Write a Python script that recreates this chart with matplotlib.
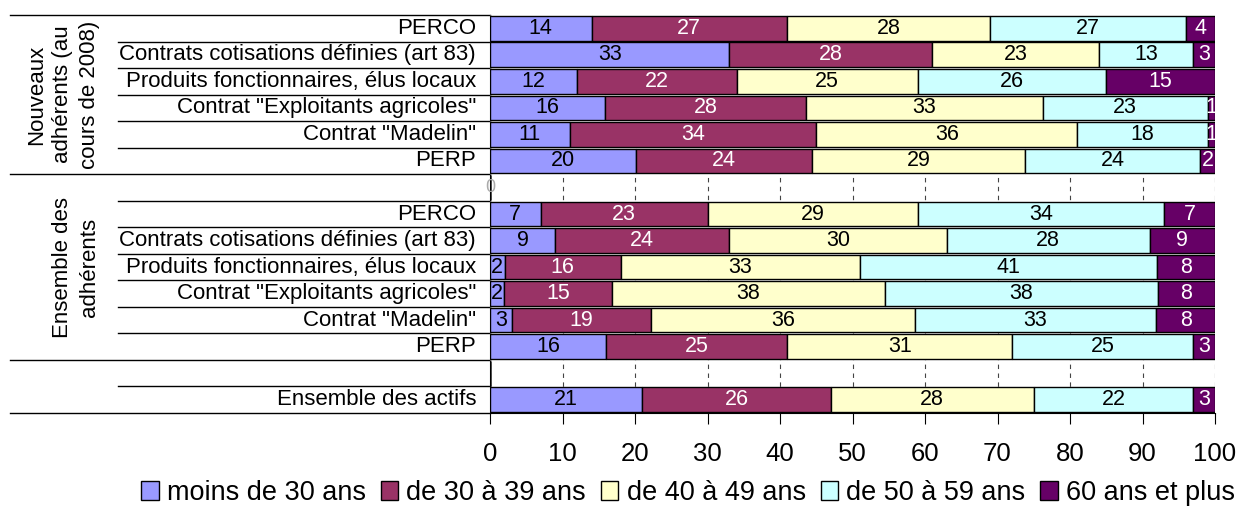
import numpy as np
import matplotlib.pyplot as plt
from matplotlib.patches import Patch
from matplotlib.transforms import blended_transform_factory

plt.rcParams['font.family'] = ['Liberation Sans', 'DejaVu Sans']

products = ['PERCO', 'Contrats cotisations définies (art 83)',
            'Produits fonctionnaires, élus locaux',
            'Contrat "Exploitants agricoles"', 'Contrat "Madelin"', 'PERP']
# rows from top to bottom, '' = empty spacer row
row_labels = products + [''] + products + ['', 'Ensemble des actifs']
group_labels = ['Nouveaux\nadhérents (au\ncours de 2008)', 'Ensemble des\nadhérents']
age_classes = ['moins de 30 ans', 'de 30 à 39 ans', 'de 40 à 49 ans',
               'de 50 à 59 ans', '60 ans et plus']

# shares in %, 0 on spacer rows
moins_30 = [14, 33, 12, 16, 11, 20, 0, 7, 9, 2, 2, 3, 16, 0, 21]
de_30_39 = [27, 28, 22, 28, 34, 24, 0, 23, 24, 16, 15, 19, 25, 0, 26]
de_40_49 = [28, 23, 25, 33, 36, 29, 0, 29, 30, 33, 38, 36, 31, 0, 28]
de_50_59 = [27, 13, 26, 23, 18, 24, 0, 34, 28, 41, 38, 33, 25, 0, 22]
plus_60 = [4, 3, 15, 1, 1, 2, 0, 7, 9, 8, 8, 8, 3, 0, 3]

colors = ['#9999FF', '#993366', '#FFFFCC', '#CCFFFF', '#660066']
text_colors = ['black', 'white', 'black', 'black', 'white']

series = np.array([moins_30, de_30_39, de_40_49, de_50_59, plus_60], dtype=float)
totals = series.sum(axis=0)
# published figures are rounded, bars are drawn on a 100 % scale
widths = np.divide(series * 100, totals, out=np.zeros_like(series), where=totals > 0)

fig = plt.figure(figsize=(12.41, 5.14), dpi=100)
ax = fig.add_axes([490 / 1241, 1 - 413 / 514, 725 / 1241, 398 / 514])

y = np.arange(len(row_labels))
left = np.zeros(len(row_labels))
for i, name in enumerate(age_classes):
    ax.barh(y, widths[i], left=left, height=0.93, color=colors[i],
            edgecolor='black', linewidth=1.0, zorder=3)
    for j in range(len(y)):
        if series[i, j] > 0:
            ax.text(left[j] + widths[i, j] / 2, y[j], f'{int(series[i, j])}',
                    ha='center', va='center', fontsize=15.5,
                    color=text_colors[i], zorder=4)
    left += widths[i]

ax.text(0, 6, '0', ha='center', va='center', fontsize=13, color='#aaaaaa')

ax.set_xlim(0, 100)
ax.set_ylim(len(row_labels) - 0.5, -0.5)
ax.set_xticks(np.arange(0, 101, 10))
ax.tick_params(axis='x', labelsize=18.5, length=8, direction='out', pad=13)
ax.set_yticks([])
ax.grid(axis='x', color='#444444', linestyle=(0, (4, 4)), linewidth=0.8, zorder=0)
for side in ['top', 'right']:
    ax.spines[side].set_visible(False)
ax.spines['left'].set_color('#555555')

# category labels and table-like separators on the left
trans = blended_transform_factory(ax.transAxes, ax.transData)
for j, lab in enumerate(row_labels):
    ax.text(-14 / 725, y[j], lab, transform=trans, ha='right', va='center',
            fontsize=16, clip_on=False)

full_x = -480 / 725
short_x = -372 / 725
for b in np.arange(-0.5, len(row_labels), 1.0):
    x0 = full_x if b in (-0.5, 5.5, 12.5, 14.5) else short_x
    ax.plot([x0, 0], [b, b], transform=trans, color='black', linewidth=1.0,
            clip_on=False)

ax.text(-390 / 725, 2.5, group_labels[0], transform=trans, rotation=90,
        ha='right', va='center', fontsize=16, multialignment='center',
        linespacing=1.35, clip_on=False)
ax.text(-390 / 725, 9.0, group_labels[1], transform=trans, rotation=90,
        ha='right', va='center', fontsize=16, multialignment='center',
        linespacing=1.35, clip_on=False)

handles = [Patch(facecolor=c, edgecolor='black', linewidth=1.0) for c in colors]
fig.legend(handles, age_classes, loc='center', ncol=5,
           bbox_to_anchor=(688 / 1241, 1 - 493 / 514), frameon=False,
           fontsize=19.5, handlelength=0.65, handleheight=0.65,
           handletextpad=0.3, columnspacing=0.55, borderpad=0)

fig.savefig('out.png', dpi=100)
